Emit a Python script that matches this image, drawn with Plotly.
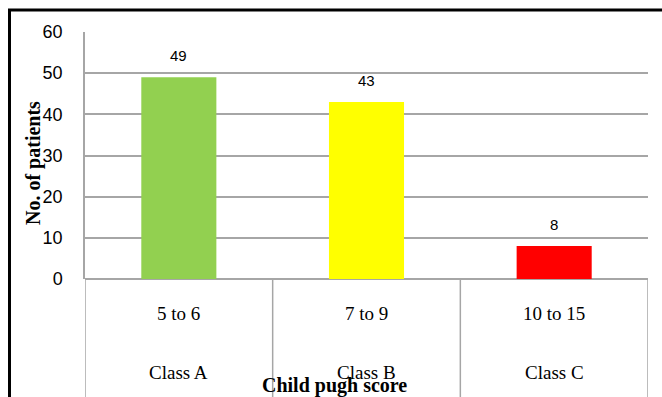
import plotly.graph_objects as go

# Child-Pugh score distribution
score_ranges = ["5 to 6", "7 to 9", "10 to 15"]
class_names = ["Class A", "Class B", "Class C"]
patients = [49, 43, 8]
bar_colors = ["#92D050", "#FFFF00", "#FF0000"]
y_ticks = [0, 10, 20, 30, 40, 50, 60]

W, H = 662, 397
L, R, T, B = 85, 14, 32, 118
plot_h = H - T - B
plot_w = W - L - R

def py(pix):
    # pixel row -> paper y
    return (H - B - pix) / plot_h

def px(pix):
    # pixel column -> paper x
    return (pix - L) / plot_w

sans = "Liberation Sans, Arial, sans-serif"
serif = "Liberation Serif, Times New Roman, serif"
grid = "#a6a6a6"

fig = go.Figure(
    go.Bar(
        x=list(range(len(patients))),
        y=patients,
        marker=dict(color=bar_colors, line=dict(width=0)),
        width=0.4,
        hoverinfo="skip",
    )
)

annotations = []
# value labels above bars
for i, v in enumerate(patients):
    annotations.append(dict(
        x=i, y=v, xref="x", yref="y", text=str(v), showarrow=False,
        yanchor="bottom", yshift=11,
        font=dict(family=sans, size=15, color="#000"),
    ))
# two-row category labels
for i, (rng, cls) in enumerate(zip(score_ranges, class_names)):
    annotations.append(dict(
        x=i, y=py(313), xref="x", yref="paper", text=rng, showarrow=False,
        yanchor="middle", font=dict(family=serif, size=19, color="#000"),
    ))
    annotations.append(dict(
        x=i, y=py(372), xref="x", yref="paper", text=cls, showarrow=False,
        yanchor="middle", font=dict(family=serif, size=19, color="#000"),
    ))
# axis titles
annotations.append(dict(
    x=px(334), y=py(385), xref="paper", yref="paper", text="<b>Child pugh score</b>",
    showarrow=False, xanchor="center", yanchor="middle",
    font=dict(family=serif, size=20, color="#000"),
))
annotations.append(dict(
    x=px(33), y=py(163), xref="paper", yref="paper", text="<b>No. of patients</b>",
    showarrow=False, textangle=-90, xanchor="center", yanchor="middle",
    font=dict(family=serif, size=20, color="#000"),
))

shapes = []
# category separators below the axis
for xs in [-0.5, 0.5, 1.5, 2.5]:
    shapes.append(dict(type="line", xref="x", yref="paper", x0=xs, x1=xs,
                       y0=0, y1=py(H + 2), line=dict(color=grid, width=1.5)))
# outer frame (top and left)
shapes.append(dict(type="line", xref="paper", yref="paper", x0=px(8), x1=px(W + 2),
                   y0=py(10), y1=py(10), line=dict(color="#000", width=3)))
shapes.append(dict(type="line", xref="paper", yref="paper", x0=px(9.5), x1=px(9.5),
                   y0=py(9), y1=py(H + 2), line=dict(color="#000", width=3)))

fig.update_layout(
    width=W, height=H,
    margin=dict(l=L, r=R, t=T, b=B, pad=0),
    paper_bgcolor="white", plot_bgcolor="white",
    showlegend=False,
    bargap=0.6,
    xaxis=dict(
        range=[-0.5, 2.5], showticklabels=False, showgrid=False, zeroline=False,
        showline=False, ticks="", fixedrange=True,
    ),
    yaxis=dict(
        range=[0, 60], tickvals=y_ticks, showgrid=True, gridcolor=grid, gridwidth=2,
        zeroline=True, zerolinecolor=grid, zerolinewidth=2,
        showline=True, linecolor=grid, linewidth=1.5,
        ticks="", ticklabelstandoff=17,
        tickfont=dict(family=sans, size=18, color="#000"),
        fixedrange=True,
    ),
    annotations=annotations,
    shapes=shapes,
)

fig.write_html("out.html")
